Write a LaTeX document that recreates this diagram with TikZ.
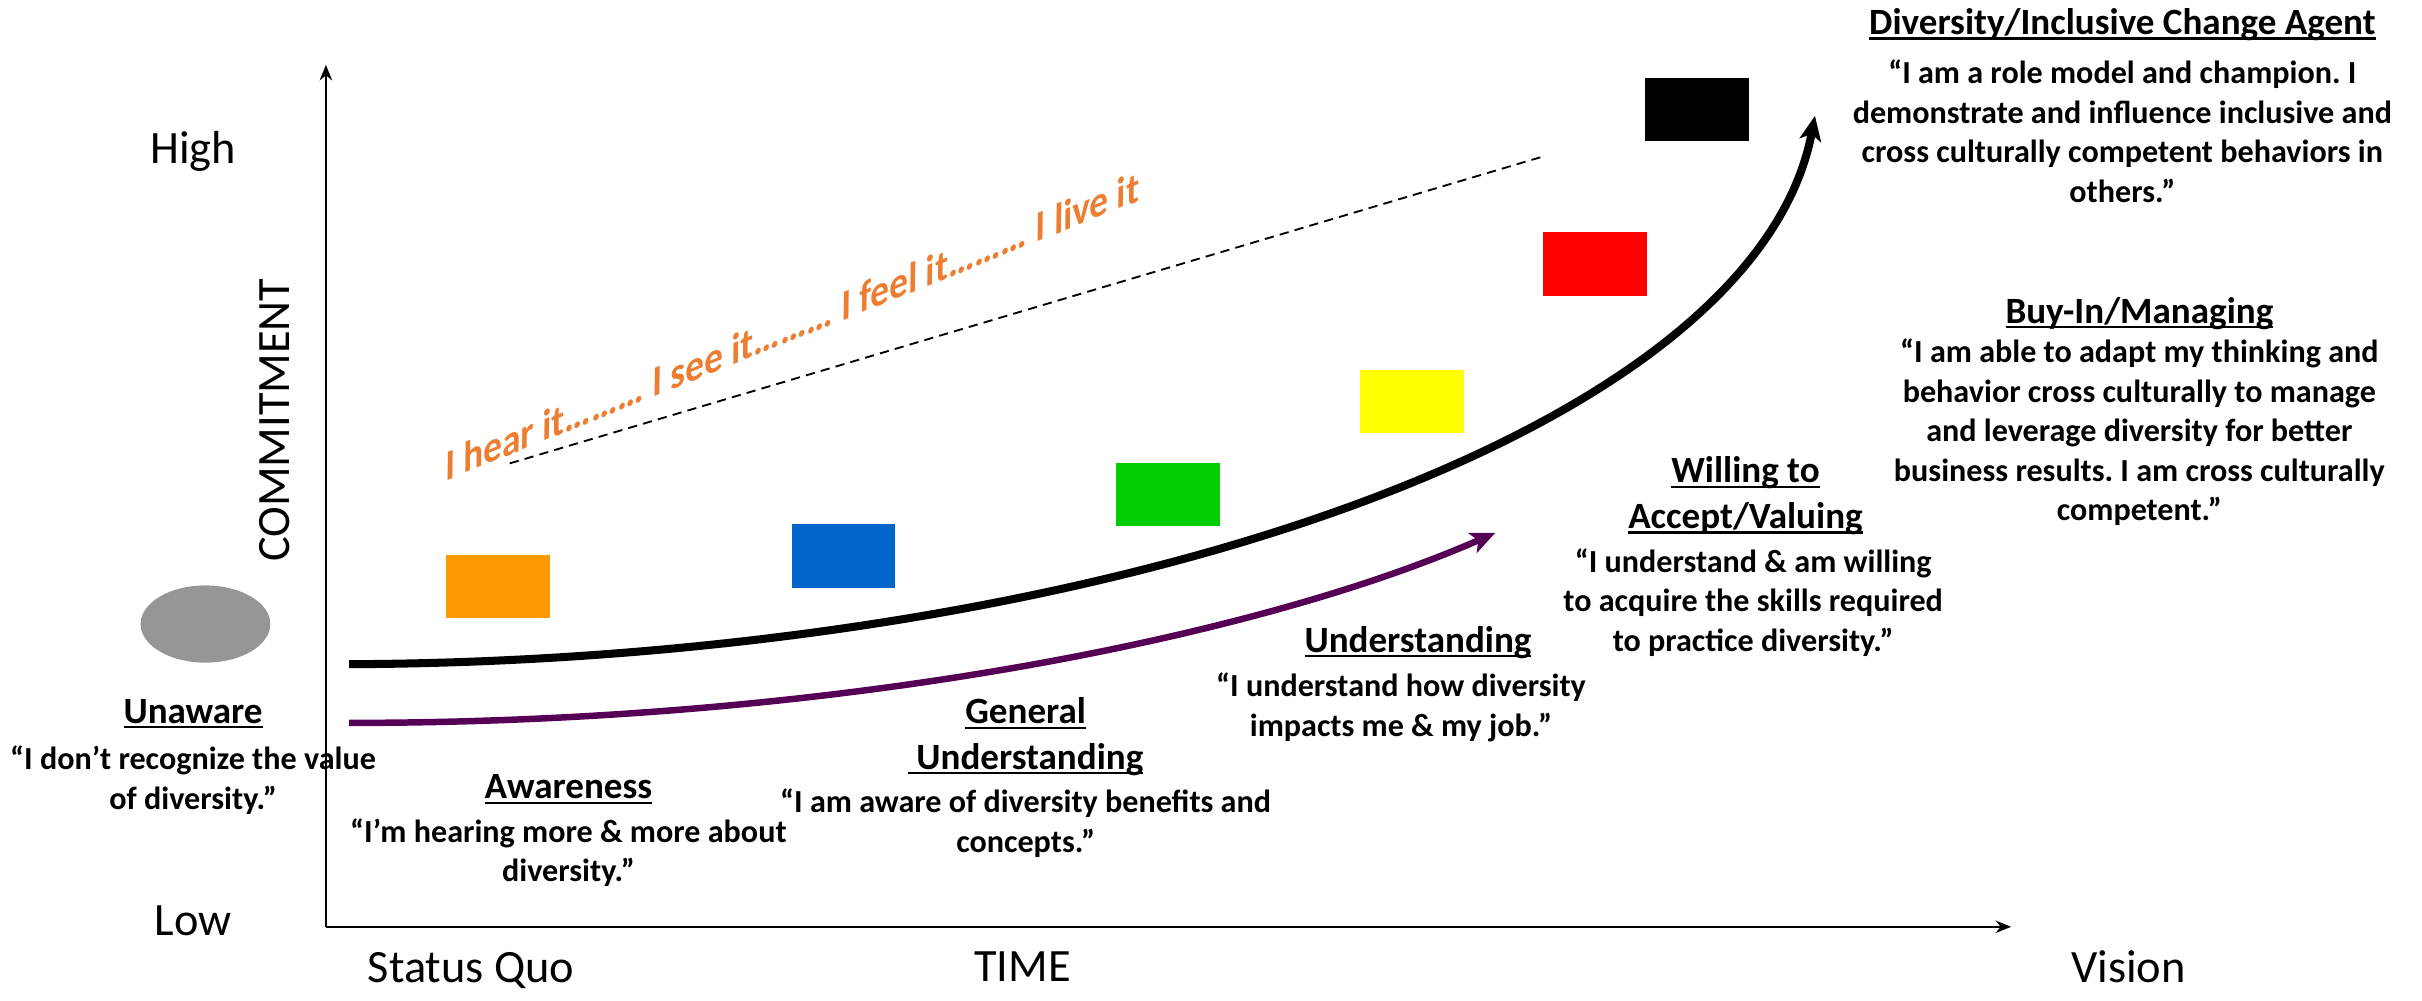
\documentclass[tikz,border=0pt]{standalone}
\usepackage{fontspec}
\setmainfont{Carlito}
\usetikzlibrary{arrows.meta,shapes.geometric}
\definecolor{barorange}{RGB}{255,153,0}
\definecolor{barblue}{RGB}{0,102,204}
\definecolor{bargreen}{RGB}{0,204,0}
\definecolor{baryellow}{RGB}{255,255,0}
\definecolor{barred}{RGB}{255,0,0}
\definecolor{ellgray}{RGB}{150,150,150}
\definecolor{purplearrow}{RGB}{85,0,85}
\definecolor{slogan}{RGB}{237,125,49}
\newcommand\uline[1]{\setbox0=\hbox{#1}\rlap{\rule[-1.6pt]{\wd0}{0.7pt}}\box0}
\frenchspacing
\begin{document}
\begin{tikzpicture}[x=0.5pt,y=-0.5pt,
  heading/.style={font=\bfseries\fontsize{12}{14.8}\selectfont, align=center, inner sep=0},
  body/.style={font=\bfseries\fontsize{10.4}{12.8}\selectfont, align=center, inner sep=0},
  axislabel/.style={font=\fontsize{15}{18}\selectfont, inner sep=0},
  bar/.style={draw=none, minimum width=33.5pt, minimum height=20.5pt, inner sep=0},
  axis/.style={line width=0.8pt, -{Stealth[length=5pt,width=4pt]}},
]
\useasboundingbox (0,0) rectangle (1568,648);

% axes
\coordinate (O) at (211,600);
\coordinate (ytip) at (211,42);
\coordinate (xtip) at (1302,600);
\draw[axis] (O) -- (ytip);
\draw[axis] (O) -- (xtip);

\node[axislabel] (high) at (125,98) {High};
\node[axislabel] (low) at (125,596) {Low};
\node[axislabel, rotate=90] (commit) at (178,272) {COMMITMENT};
\node[axislabel] (sq) at (305,628) {Status Quo};
\node[axislabel] (time) at (662,626) {TIME};
\node[axislabel] (vision) at (1378,626) {Vision};

% ellipse and bars
\node[ellipse, fill=ellgray, minimum width=42pt, minimum height=25pt, inner sep=0] (ell) at (133,404) {};
\node[bar, fill=barorange] (b1) at (322.5,379.5) {};
\node[bar, fill=barblue] (b2) at (546,360) {};
\node[bar, fill=bargreen] (b3) at (756,320) {};
\node[bar, fill=baryellow] (b4) at (914,260) {};
\node[bar, fill=barred] (b5) at (1032.5,171) {};
\node[bar, fill=black] (b6) at (1098.5,71) {};

% curves
\coordinate (cs) at (226,430);
\coordinate (ce) at (1175,75);
\draw[line width=2.6pt, -{Stealth[length=8pt,width=7pt,inset=2pt]}] (cs) .. controls (700,428) and (1135,285) .. (ce);
\coordinate (ps) at (226,468);
\coordinate (pe) at (968,345);
\draw[purplearrow, line width=2.1pt, -{Stealth[length=8pt,width=7pt,inset=2pt]}] (ps) .. controls (550,468) and (820,410) .. (pe);

% dashed line and slogan
\coordinate (ds) at (330,300);
\coordinate (de) at (1000,101);
\draw[dashed, line width=0.6pt, dash pattern=on 3pt off 2pt] (ds) -- (de);
\node[text=slogan, font=\bfseries\fontsize{13}{15}\selectfont, rotate=22, xslant=0.42, inner sep=0] (slog) at (513,211) {I hear it\ldots\ldots\ldots\ I see it\ldots\ldots\ldots\ I feel it\ldots\ldots\ldots\ I live it};

% text blocks
\node[heading] (h1) at (125,462) {\uline{Unaware}};
\node[body] (t1) at (125,505) {“I don’t recognize the value\\of diversity.”};

\node[heading] (h2) at (368,511) {\uline{Awareness}};
\node[body] (t2) at (368,552) {“I’m hearing more \& more about\\diversity.”};

\node[heading] (h3) at (664,477) {\uline{General}\\\uline{\ Understanding}};
\node[body] (t3) at (664,533) {“I am aware of diversity benefits and\\concepts.”};

\node[heading] (h4) at (918,416) {\uline{Understanding}};
\node[body] (t4) at (907,458) {“I understand how diversity\\impacts me \& my job.”};

\node[heading] (h5) at (1130,321) {\uline{Willing to}\\\uline{Accept/Valuing}};
\node[body] (t5) at (1135,390) {“I understand \& am willing\\to acquire the skills required\\to practice diversity.”};

\node[heading] (h6) at (1385,203) {\uline{Buy-In/Managing}};
\node[body] (t6) at (1385,280) {“I am able to adapt my thinking and\\behavior cross culturally to manage\\and leverage diversity for better\\business results. I am cross culturally\\competent.”};

\node[heading] (h7) at (1374,16) {\uline{Diversity/Inclusive Change Agent}};
\node[body] (t7) at (1374,85) {“I am a role model and champion. I\\demonstrate and influence inclusive and\\cross culturally competent behaviors in\\others.”};
\end{tikzpicture}
\end{document}
